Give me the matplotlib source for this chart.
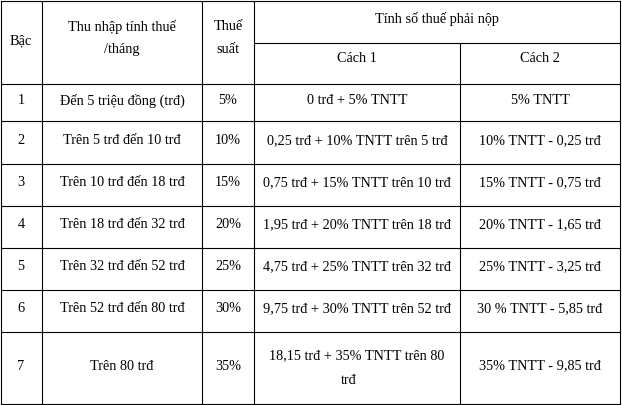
import matplotlib
matplotlib.use("Agg")
import matplotlib.pyplot as plt

bac = ["1", "2", "3", "4", "5", "6", "7"]
thu_nhap = ["Đến 5 triệu đồng (trđ)", "Trên 5 trđ đến 10 trđ", "Trên 10 trđ đến 18 trđ",
            "Trên 18 trđ đến 32 trđ", "Trên 32 trđ đến 52 trđ", "Trên 52 trđ đến 80 trđ", "Trên 80 trđ"]
thue_suat = ["5%", "10%", "15%", "20%", "25%", "30%", "35%"]
cach1 = ["0 trđ + 5% TNTT", "0,25 trđ + 10% TNTT trên 5 trđ", "0,75 trđ + 15% TNTT trên 10 trđ",
         "1,95 trđ + 20% TNTT trên 18 trđ", "4,75 trđ + 25% TNTT trên 32 trđ",
         "9,75 trđ + 30% TNTT trên 52 trđ", "18,15 trđ + 35% TNTT trên 80\ntrđ"]
cach2 = ["5% TNTT", "10% TNTT - 0,25 trđ", "15% TNTT - 0,75 trđ", "20% TNTT - 1,65 trđ",
         "25% TNTT - 3,25 trđ", "30 % TNTT - 5,85 trđ", "35% TNTT - 9,85 trđ"]

W, H = 622, 405
fig = plt.figure(figsize=(W/100, H/100), dpi=100)
ax = fig.add_axes([0, 0, 1, 1])
ax.set_xlim(0, W); ax.set_ylim(H, 0); ax.axis("off")

xs = [1, 42, 202, 254, 460, 620]
ys = [1, 84, 121, 164, 206, 248, 290, 332, 404]
lw = 0.8
kw = dict(family="Liberation Serif", fontsize=10.3, ha="center", va="center", color="black")

for y in ys:
    ax.plot([xs[0], xs[-1]], [y, y], color="black", lw=lw)
ax.plot([xs[3], xs[5]], [43, 43], color="black", lw=lw)
for i, x in enumerate(xs):
    y0 = 43 if i == 4 else 1
    ax.plot([x, x], [y0, ys[-1]], color="black", lw=lw)

ax.text(21, 41, "Bậc", **kw)
ax.text(122, 38, "Thu nhập tính thuế\n/tháng", linespacing=2.0, **kw)
ax.text(228, 38, "Thuế\nsuất", linespacing=2.0, **kw)
ax.text(437, 19, "Tính số thuế phải nộp", **kw)
ax.text(357, 59, "Cách 1", **kw)
ax.text(540, 59, "Cách 2", **kw)

cols = [bac, thu_nhap, thue_suat, cach1, cach2]
for r in range(7):
    yc = (ys[r+1] + ys[r+2]) / 2 - 2
    for c in range(5):
        xc = (xs[c] + xs[c+1]) / 2
        if c == 0:
            ax.text(xs[0] + 20, yc, cols[c][r], **kw)
        elif c == 3 and "\n" in cols[c][r]:
            a, b = cols[c][r].split("\n")
            ax.text(xc, yc - 10, a, **kw)
            ax.text(xs[3] + 95, yc + 15, b, **kw)
        else:
            ax.text(xc, yc, cols[c][r], **kw)

fig.savefig("out.png", dpi=100)
